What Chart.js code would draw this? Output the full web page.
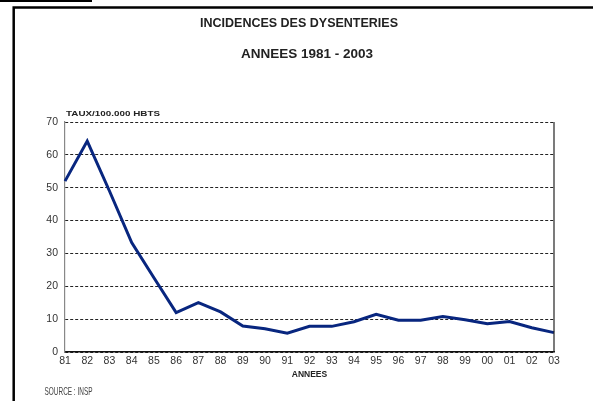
<!DOCTYPE html>
<html>
<head>
<meta charset="utf-8">
<script src="https://cdn.jsdelivr.net/npm/chart.js@4/dist/chart.umd.min.js"></script>
<style>
  html, body { margin: 0; padding: 0; background: #fff; }
  #wrap { width: 593px; height: 401px; }
</style>
</head>
<body>
<div id="wrap"><canvas id="dysenterie"></canvas></div>
<script>
// données
var annees = ['81','82','83','84','85','86','87','88','89','90','91','92','93','94','95','96','97','98','99','00','01','02','03'];
var taux = [52, 64.2, 49, 33.3, 22.6, 12, 15, 12.2, 7.9, 7.1, 5.7, 7.8, 7.8, 9.2, 11.5, 9.7, 9.7, 10.8, 9.8, 8.6, 9.3, 7.4, 5.9];
var yTicks = [0, 10, 20, 30, 40, 50, 60, 70];

var titre = 'INCIDENCES DES DYSENTERIES';
var sousTitre = 'ANNEES 1981 - 2003';
var uniteY = 'TAUX/100.000 HBTS';
var titreX = 'ANNEES';
var source = 'SOURCE : INSP';

var police = "'Liberation Sans', Arial, sans-serif";

// texte étiré horizontalement pour garder la largeur d'origine
function texteLarge(ctx, txt, x, y, largeur, font, color) {
    ctx.save();
    ctx.font = font;
    ctx.fillStyle = color;
    ctx.textBaseline = 'middle';
    ctx.textAlign = 'left';
    var w = ctx.measureText(txt).width;
    ctx.translate(x, y);
    ctx.scale(largeur / w, 1);
    ctx.fillText(txt, 0, 0);
    ctx.restore();
}

// cadre, bordure droite, sous-titre, unité et source
var decor = {
    id: 'decor',
    beforeDraw: function(chart) {
        var ctx = chart.ctx;
        ctx.save();
        ctx.fillStyle = '#fff';
        ctx.fillRect(0, 0, chart.width, chart.height);
        ctx.restore();
    },
    afterDraw: function(chart) {
        var ctx = chart.ctx;
        var a = chart.chartArea;
        ctx.save();
        ctx.strokeStyle = '#000';
        // trait sous "Figure" coupé en haut
        ctx.lineWidth = 2;
        ctx.beginPath();
        ctx.moveTo(0, 1);
        ctx.lineTo(92, 1);
        ctx.stroke();
        // cadre haut et gauche
        ctx.lineWidth = 2.5;
        ctx.beginPath();
        ctx.moveTo(593, 7.5);
        ctx.lineTo(13.7, 7.5);
        ctx.lineTo(13.7, 401);
        ctx.stroke();
        // bordure droite du graphique
        ctx.lineWidth = 1.2;
        ctx.strokeStyle = '#222';
        ctx.beginPath();
        ctx.moveTo(a.right, a.top);
        ctx.lineTo(a.right, a.bottom);
        ctx.stroke();

        // sous-titre (un peu décalé à droite par rapport au titre)
        ctx.font = 'bold 13.5px ' + police;
        ctx.fillStyle = '#222';
        ctx.textAlign = 'center';
        ctx.textBaseline = 'middle';
        ctx.fillText(sousTitre, 307, 54.5);
        ctx.restore();

        texteLarge(ctx, uniteY, a.left + 1, a.top - 8, 94, 'bold 7.5px ' + police, '#222');
        texteLarge(ctx, source, 44.5, 392, 48, '11px ' + police, '#444');
    }
};

var ctx = document.getElementById('dysenterie').getContext('2d');
var lineChart = new Chart(ctx, {
    type: 'line',
    data: {
        labels: annees,
        datasets: [{
            data: taux,
            borderColor: '#08267f',
            borderWidth: 3,
            pointRadius: 0,
            tension: 0,
            fill: false
        }]
    },
    options: {
        responsive: true,
        maintainAspectRatio: false,
        animation: false,
        layout: {
            padding: { left: 44, right: 39, top: 0, bottom: 19 }
        },
        plugins: {
            legend: { display: false },
            tooltip: { enabled: false },
            title: {
                display: true,
                text: titre,
                color: '#222',
                font: { family: police, size: 12.5, weight: 'bold' },
                padding: { top: 16.5, bottom: 90.5 }
            }
        },
        scales: {
            x: {
                grid: { display: false, drawTicks: false },
                border: { display: true, color: '#111', width: 1.5 },
                ticks: {
                    color: '#333',
                    font: { family: police, size: 10.5 },
                    padding: 3,
                    maxRotation: 0,
                    autoSkip: false
                },
                title: {
                    display: true,
                    text: titreX,
                    color: '#222',
                    font: { family: police, size: 8.5, weight: 'bold' },
                    padding: { top: 0, bottom: 2 }
                },
                afterFit: function(s) { s.height = 30; }
            },
            y: {
                min: 0,
                max: 70,
                afterBuildTicks: function(s) {
                    s.ticks = yTicks.map(function(v) { return { value: v }; });
                },
                grid: { color: '#222', lineWidth: 1, drawTicks: false },
                border: { display: true, color: '#888', width: 1.2, dash: [3, 2] },
                ticks: {
                    color: '#333',
                    font: { family: police, size: 10.5 },
                    padding: 7
                },
                afterFit: function(s) { s.width = 21; }
            }
        }
    },
    plugins: [decor]
});
</script>
</body>
</html>
